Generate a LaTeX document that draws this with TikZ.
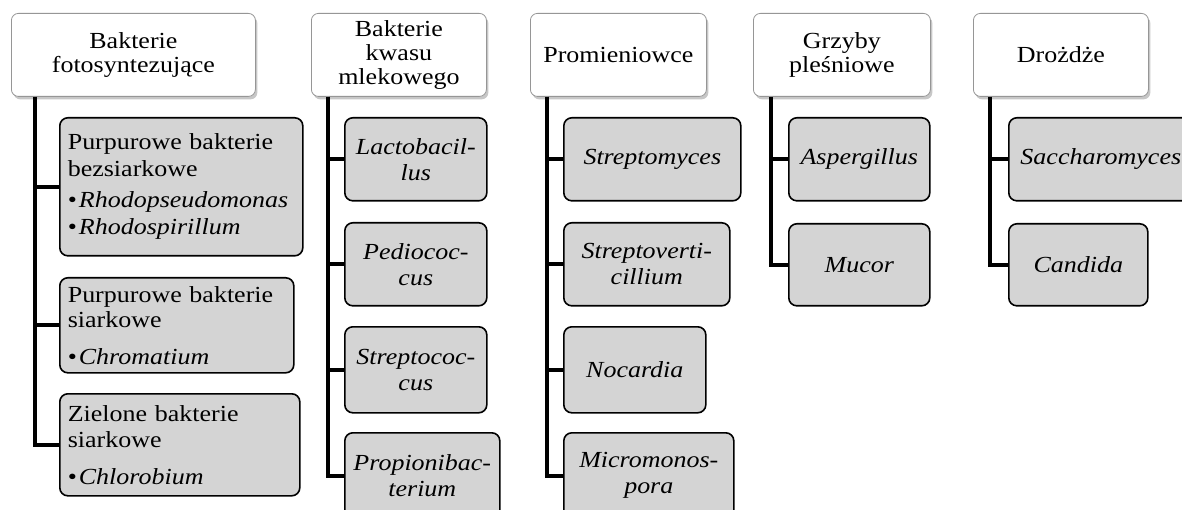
\documentclass[tikz,border=0pt]{standalone}
\usepackage{fontspec}
\setmainfont{Liberation Serif}[FakeStretch=1.13]
\usetikzlibrary{shadows}
\definecolor{boxgray}{RGB}{212,212,212}
\definecolor{hdrline}{RGB}{150,150,150}
\tikzset{
  hdr/.style={draw=hdrline, line width=0.8pt, fill=white, rounded corners=7pt,
    anchor=north west, inner sep=0pt, align=center, minimum height=83pt,
    font=\fontsize{23}{24}\selectfont,
    drop shadow={shadow xshift=2pt, shadow yshift=-3pt, opacity=0.22, fill=black}},
  leaf/.style={draw=black, line width=1.6pt, fill=boxgray, rounded corners=8pt,
    anchor=north west, inner sep=0pt, align=center,
    font=\fontsize{23}{26}\selectfont\itshape},
  leafL/.style={draw=black, line width=1.6pt, fill=boxgray, rounded corners=8pt,
    anchor=north west, inner xsep=8pt, inner ysep=0pt, align=left,
    font=\fontsize{23}{26}\selectfont},
  conn/.style={line width=4pt, draw=black},
}
\newcommand{\bul}{•\hspace{2pt}}
\begin{document}
\begin{tikzpicture}[x=1pt,y=-1pt]
\useasboundingbox (0,0) rectangle (1182,510);
\clip (0,0) rectangle (1182,510);
\fill[white] (0,0) rectangle (1182,510);

% headers
\node[hdr, minimum width=244pt] (h1) at (11,13) {Bakterie\\fotosyntezujące};
\node[hdr, minimum width=175pt] (h2) at (311,13) {Bakterie\\kwasu\\mlekowego};
\node[hdr, minimum width=176pt] (h3) at (530,13) {Promieniowce};
\node[hdr, minimum width=177pt] (h4) at (753,13) {Grzyby\\pleśniowe};
\node[hdr, minimum width=175pt] (h5) at (973,13) {Drożdże};

% column 1
\node[leafL, text width=227pt, minimum height=138pt] (c1a) at (59,117)
  {Purpurowe bakterie\\[1pt]bezsiarkowe\\[5pt]\bul\textit{Rhodopseudomonas}\\[1pt]\bul\textit{Rhodospirillum}};
\node[leafL, text width=218pt, minimum height=95pt] (c1b) at (59,277)
  {Purpurowe bakterie\\[-1pt]siarkowe\\[11pt]\bul\textit{Chromatium}};
\node[leafL, text width=224pt, minimum height=102pt] (c1c) at (59,393)
  {Zielone bakterie\\siarkowe\\[11pt]\bul\textit{Chlorobium}};

% column 2
\node[leaf, minimum width=142pt, minimum height=83pt] (c2a) at (344,117) {Lactobacil-\\lus};
\node[leaf, minimum width=142pt, minimum height=83pt] (c2b) at (344,222) {Pediococ-\\cus};
\node[leaf, minimum width=142pt, minimum height=86pt] (c2c) at (344,326) {Streptococ-\\cus};
\node[leaf, minimum width=155pt, minimum height=86pt] (c2d) at (344,432) {Propionibac-\\terium};

% column 3
\node[leaf, minimum width=177pt, minimum height=83pt] (c3a) at (563,117) {Streptomyces};
\node[leaf, minimum width=166pt, minimum height=83pt] (c3b) at (563,222) {Streptoverti-\\cillium};
\node[leaf, minimum width=142pt, minimum height=86pt] (c3c) at (563,326) {Nocardia};
\node[leaf, minimum width=170pt, minimum height=86pt] (c3d) at (563,432) {Micromonos-\\pora};

% column 4
\node[leaf, minimum width=141pt, minimum height=83pt] (c4a) at (788,117) {Aspergillus};
\node[leaf, minimum width=141pt, minimum height=82pt] (c4b) at (788,223) {Mucor};

% column 5
\node[leaf, minimum width=184pt, minimum height=83pt] (c5a) at (1008,117) {Saccharomyces};
\node[leaf, minimum width=139pt, minimum height=82pt] (c5b) at (1008,223) {Candida};

% connectors
\foreach \c in {c1a,c1b,c1c}
  \draw[conn] ([xshift=24pt]h1.south west) |- (\c.west);
\foreach \c in {c2a,c2b,c2c,c2d}
  \draw[conn] ([xshift=17pt]h2.south west) |- (\c.west);
\foreach \c in {c3a,c3b,c3c,c3d}
  \draw[conn] ([xshift=17pt]h3.south west) |- (\c.west);
\foreach \c in {c4a,c4b}
  \draw[conn] ([xshift=18pt]h4.south west) |- (\c.west);
\foreach \c in {c5a,c5b}
  \draw[conn] ([xshift=17pt]h5.south west) |- (\c.west);
\end{tikzpicture}
\end{document}
